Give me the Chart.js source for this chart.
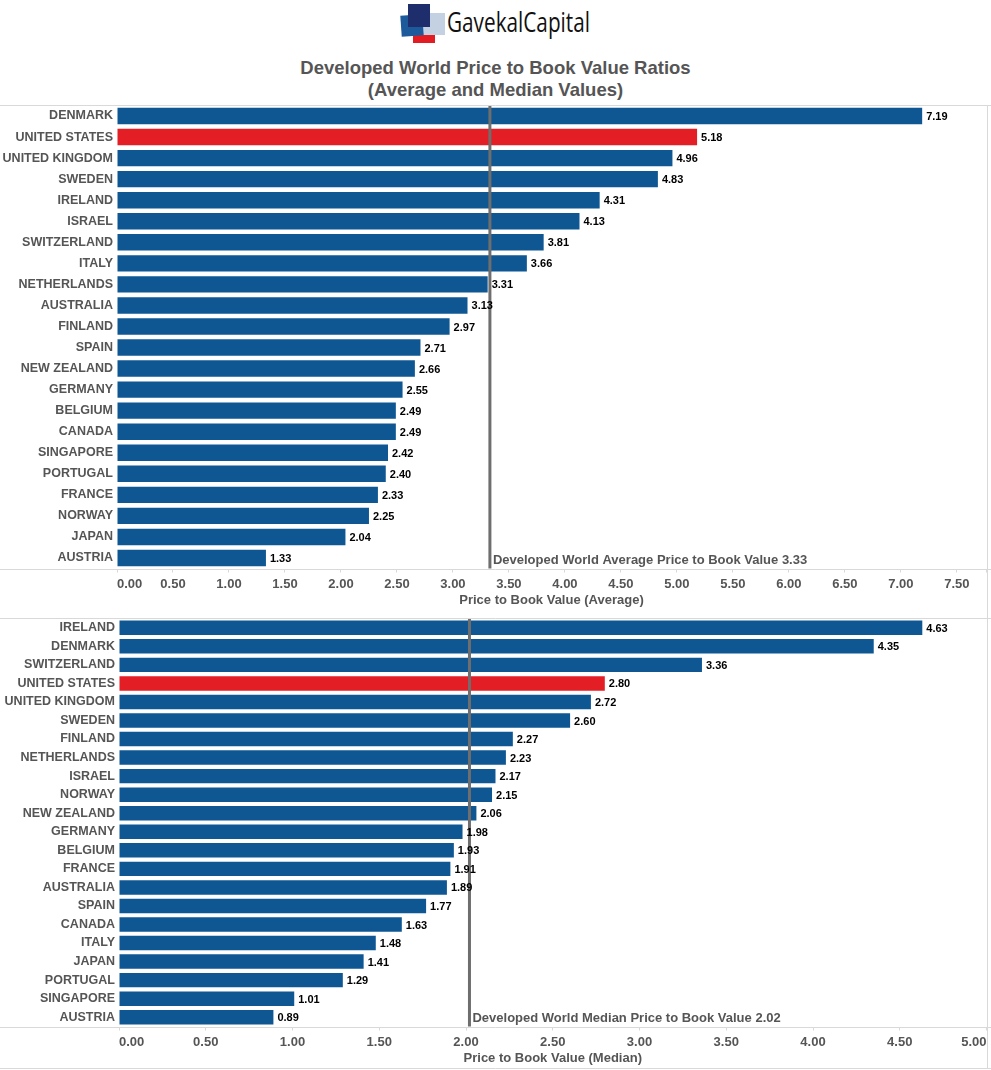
<!DOCTYPE html>
<html>
<head>
<meta charset="utf-8">
<script src="https://cdn.jsdelivr.net/npm/chart.js@4.4.0/dist/chart.umd.min.js"></script>
<style>
  body { margin: 0; background: #fff; width: 991px; height: 1070px; position: relative; overflow: hidden;
         font-family: "Liberation Sans", Arial, sans-serif; }
  canvas { position: absolute; left: 0; }
  #avgChart { top: 0; }
  #medChart { top: 590px; }
  .sq { position: absolute; }
  #logoText { position: absolute; left: 447px; top: 5px; font-family: "Open Sans", sans-serif; font-size: 27px;
              line-height: 34px; color: #111; white-space: nowrap; transform-origin: 0 0; }
  #title { position: absolute; left: 0; width: 991px; top: 57px; text-align: center; font-weight: bold;
           font-size: 18.5px; line-height: 22px; color: #555; }
</style>
</head>
<body>
<div class="sq" style="left:413px;top:35px;width:22px;height:8px;background:#e31b23"></div>
<div class="sq" style="left:423px;top:13px;width:22px;height:22px;background:#c3d1e3"></div>
<div class="sq" style="left:401px;top:15px;width:22px;height:21px;background:#1d5a9c;transform:rotate(-4deg)"></div>
<div class="sq" style="left:408px;top:4px;width:22px;height:23px;background:#1e2d6b"></div>
<div id="logoText">GavekalCapital</div>
<div id="title">Developed World Price to Book Value Ratios<br>(Average and Median Values)</div>
<canvas id="avgChart" width="991" height="612"></canvas>
<canvas id="medChart" width="991" height="480"></canvas>
<script>
// fit logo text to its width in the picture
var lt = document.getElementById('logoText');
lt.style.transform = 'scaleX(' + (143 / lt.getBoundingClientRect().width) + ')';

// ---- data ----
var avgCountries = ['DENMARK', 'UNITED STATES', 'UNITED KINGDOM', 'SWEDEN', 'IRELAND', 'ISRAEL', 'SWITZERLAND',
  'ITALY', 'NETHERLANDS', 'AUSTRALIA', 'FINLAND', 'SPAIN', 'NEW ZEALAND', 'GERMANY', 'BELGIUM', 'CANADA',
  'SINGAPORE', 'PORTUGAL', 'FRANCE', 'NORWAY', 'JAPAN', 'AUSTRIA'];
var avgValues = [7.19, 5.18, 4.96, 4.83, 4.31, 4.13, 3.81, 3.66, 3.31, 3.13, 2.97, 2.71, 2.66, 2.55, 2.49, 2.49,
  2.42, 2.40, 2.33, 2.25, 2.04, 1.33];
var avgTicks = [0, 0.5, 1, 1.5, 2, 2.5, 3, 3.5, 4, 4.5, 5, 5.5, 6, 6.5, 7, 7.5];
var avgRef = 3.33;

var medCountries = ['IRELAND', 'DENMARK', 'SWITZERLAND', 'UNITED STATES', 'UNITED KINGDOM', 'SWEDEN', 'FINLAND',
  'NETHERLANDS', 'ISRAEL', 'NORWAY', 'NEW ZEALAND', 'GERMANY', 'BELGIUM', 'FRANCE', 'AUSTRALIA', 'SPAIN',
  'CANADA', 'ITALY', 'JAPAN', 'PORTUGAL', 'SINGAPORE', 'AUSTRIA'];
var medValues = [4.63, 4.35, 3.36, 2.80, 2.72, 2.60, 2.27, 2.23, 2.17, 2.15, 2.06, 1.98, 1.93, 1.91, 1.89, 1.77,
  1.63, 1.48, 1.41, 1.29, 1.01, 0.89];
var medTicks = [0, 0.5, 1, 1.5, 2, 2.5, 3, 3.5, 4, 4.5, 5];
var medRef = 2.02;

var BLUE = '#0f5793', RED = '#e31e25', LINE = '#d9d9d9', TXT = '#555';
var FONT = '"Liberation Sans", Arial, sans-serif';

// reference line, value labels and frame lines
var decor = {
  id: 'decor',
  afterDatasetsDraw: function (chart, args, o) {
    var ctx = chart.ctx, a = chart.chartArea, xs = chart.scales.x;
    var rx = xs.getPixelForValue(o.ref);
    ctx.save();
    ctx.strokeStyle = '#6e6e6e';
    ctx.lineWidth = 3;
    ctx.beginPath();
    ctx.moveTo(rx, a.top);
    ctx.lineTo(rx, a.bottom);
    ctx.stroke();

    ctx.font = 'bold 13px ' + FONT;
    ctx.fillStyle = TXT;
    ctx.textAlign = 'left';
    ctx.textBaseline = 'alphabetic';
    ctx.fillText(o.refText, rx + 3, a.bottom - 5);

    ctx.font = 'bold 11px ' + FONT;
    ctx.fillStyle = '#000';
    ctx.textBaseline = 'middle';
    var vals = chart.data.datasets[0].data;
    chart.getDatasetMeta(0).data.forEach(function (bar, i) {
      ctx.fillText(vals[i].toFixed(2), bar.x + 4, bar.y + 1);
    });

    ctx.strokeStyle = LINE;
    ctx.lineWidth = 1;
    ctx.beginPath();
    ctx.moveTo(0, Math.round(a.top) - 0.5); ctx.lineTo(chart.width, Math.round(a.top) - 0.5);
    ctx.moveTo(0, Math.round(a.bottom) + 0.5); ctx.lineTo(chart.width, Math.round(a.bottom) + 0.5);
    ctx.moveTo(987.5, o.vTop); ctx.lineTo(987.5, o.vBottom);
    if (o.baseLine) { ctx.moveTo(0, o.baseLine + 0.5); ctx.lineTo(chart.width, o.baseLine + 0.5); }
    ctx.stroke();
    ctx.restore();
  }
};

function makeChart(id, labels, values, ticks, max, title, pad, yWidth, deco) {
  return new Chart(document.getElementById(id), {
    type: 'bar',
    data: {
      labels: labels,
      datasets: [{
        data: values,
        backgroundColor: labels.map(function (c) { return c === 'UNITED STATES' ? RED : BLUE; }),
        categoryPercentage: 1,
        barPercentage: 0.78
      }]
    },
    plugins: [decor],
    options: {
      indexAxis: 'y',
      responsive: false,
      animation: false,
      layout: { padding: pad },
      plugins: { legend: { display: false }, tooltip: { enabled: false }, decor: deco },
      scales: {
        x: {
          min: 0, max: max,
          afterBuildTicks: function (s) {
            s.ticks = ticks.map(function (v) { return { value: v }; });
            if (max > ticks[ticks.length - 1]) s.ticks.push({ value: max });
          },
          afterFit: function (s) { s.height = 43.5; },
          grid: { display: true, drawOnChartArea: false, drawTicks: true, tickLength: 4, color: LINE },
          border: { display: false },
          ticks: {
            align: 'inner', padding: 4, color: TXT, font: { family: FONT, size: 13, weight: 'bold' },
            callback: function (v) { return ticks.indexOf(v) >= 0 ? v.toFixed(2) : ''; }
          },
          title: { display: true, text: title, color: TXT, font: { family: FONT, size: 13, weight: 'bold' },
                   padding: { top: 0, bottom: 4 } }
        },
        y: {
          afterFit: function (s) { s.width = yWidth; },
          grid: { display: false, drawTicks: false },
          border: { display: false },
          ticks: { autoSkip: false, padding: 4, color: TXT, font: { family: FONT, size: 12.5, weight: 'bold' } }
        }
      }
    }
  });
}

makeChart('avgChart', avgCountries, avgValues, avgTicks, 7.76, 'Price to Book Value (Average)',
  { top: 105.5, right: 5, left: 0, bottom: 0 }, 117,
  { ref: avgRef, refText: 'Developed World Average Price to Book Value ' + avgRef.toFixed(2), vTop: 105, vBottom: 612 });

makeChart('medChart', medCountries, medValues, medTicks, 5, 'Price to Book Value (Median)',
  { top: 28.5, right: 4.5, left: 0, bottom: 0 }, 119,
  { ref: medRef, refText: 'Developed World Median Price to Book Value ' + medRef.toFixed(2), vTop: 0, vBottom: 479, baseLine: 478 });
</script>
</body>
</html>
